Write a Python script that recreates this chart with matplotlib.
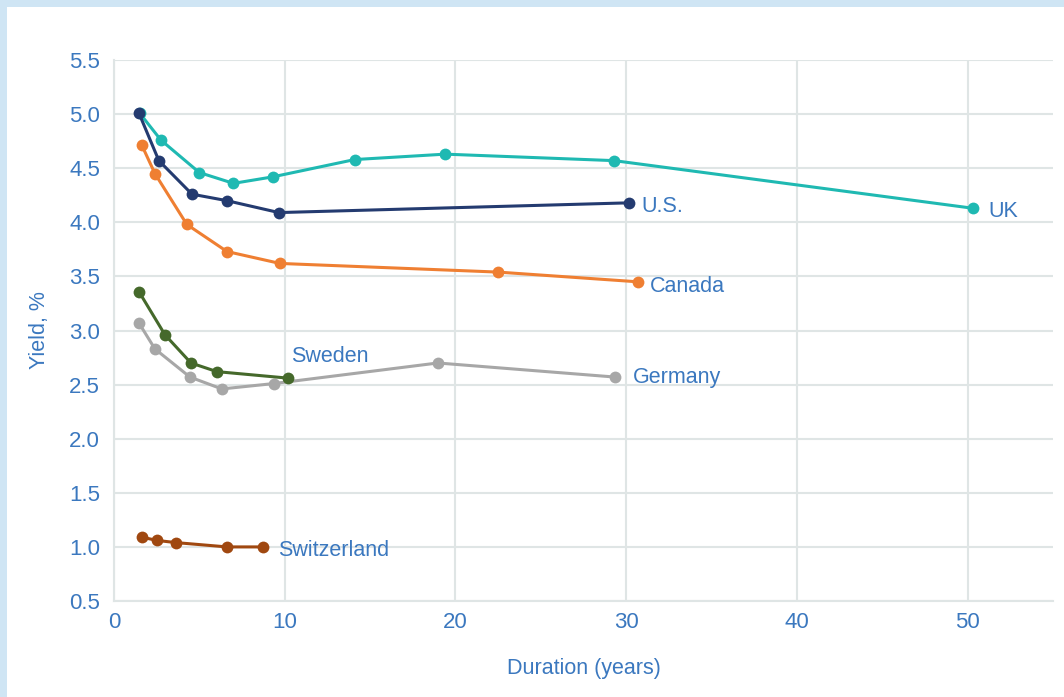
"""
Government bond yield curves by country: yield vs. duration
"""
import matplotlib.pyplot as plt
import matplotlib.patches as patches

plt.rcParams['font.family'] = ['Liberation Sans', 'DejaVu Sans']

TEXT_BLUE = '#3b78bf'
GRID = '#dfe5e5'
FRAME = '#cfe5f4'

# duration (years) and yield (%) per country
uk_dur = [1.5, 2.75, 5.0, 7.0, 9.3, 14.1, 19.4, 29.3, 50.3]
uk_yld = [5.01, 4.76, 4.46, 4.36, 4.42, 4.58, 4.63, 4.57, 4.13]

us_dur = [1.46, 2.63, 4.57, 6.62, 9.66, 30.15]
us_yld = [5.01, 4.57, 4.26, 4.20, 4.09, 4.18]

canada_dur = [1.64, 2.40, 4.27, 6.62, 9.72, 22.5, 30.7]
canada_yld = [4.71, 4.45, 3.98, 3.73, 3.62, 3.54, 3.45]

sweden_dur = [1.46, 2.99, 4.51, 6.03, 10.19]
sweden_yld = [3.36, 2.96, 2.70, 2.62, 2.56]

germany_dur = [1.46, 2.40, 4.45, 6.32, 9.37, 18.97, 29.33]
germany_yld = [3.07, 2.83, 2.57, 2.46, 2.51, 2.70, 2.57]

swiss_dur = [1.64, 2.52, 3.63, 6.62, 8.72]
swiss_yld = [1.09, 1.06, 1.04, 1.00, 1.00]

x_ticks = [0, 10, 20, 30, 40, 50]
y_ticks = [0.5, 1.0, 1.5, 2.0, 2.5, 3.0, 3.5, 4.0, 4.5, 5.0, 5.5]

series = [
    (germany_dur, germany_yld, '#a7a7a7', 'Germany', (30.4, 2.57)),
    (sweden_dur, sweden_yld, '#45692b', 'Sweden', (10.4, 2.76)),
    (swiss_dur, swiss_yld, '#a04810', 'Switzerland', (9.6, 0.97)),
    (canada_dur, canada_yld, '#ef7f32', 'Canada', (31.4, 3.41)),
    (uk_dur, uk_yld, '#1fb9b2', 'UK', (51.2, 4.10)),
    (us_dur, us_yld, '#243b70', 'U.S.', (30.9, 4.15)),
]

fig = plt.figure(figsize=(10.64, 6.97), dpi=100)

# light blue frame on top and left edges
fig.patches.append(patches.Rectangle((0, 0.99), 1, 0.01, transform=fig.transFigure,
                                     facecolor=FRAME, edgecolor='none', zorder=0))
fig.patches.append(patches.Rectangle((0, 0), 0.0066, 1, transform=fig.transFigure,
                                     facecolor=FRAME, edgecolor='none', zorder=0))

ax = fig.add_axes([0.1071, 0.1377, 0.8826, 0.7762])

for dur, yld, color, name, pos in series:
    ax.plot(dur, yld, color=color, lw=2.2, marker='o', markersize=8.5,
            markeredgewidth=0, zorder=3)
    ax.text(pos[0], pos[1], name, color=TEXT_BLUE, fontsize=15.5,
            ha='left', va='center', zorder=4)

ax.set_xlim(0, 55)
ax.set_ylim(0.5, 5.5)
ax.set_xticks(x_ticks)
ax.set_yticks(y_ticks)
ax.set_yticklabels([f'{v:.1f}' for v in y_ticks])

ax.grid(True, color=GRID, lw=1.5)
ax.set_axisbelow(True)
for side in ['top', 'right']:
    ax.spines[side].set_visible(False)
for side in ['left', 'bottom']:
    ax.spines[side].set_color(GRID)
    ax.spines[side].set_linewidth(1.5)

ax.tick_params(length=0, labelsize=16, labelcolor=TEXT_BLUE)
ax.tick_params(axis='y', pad=10)
ax.tick_params(axis='x', pad=8)

ax.set_xlabel('Duration (years)', fontsize=15.5, color=TEXT_BLUE, labelpad=18)
ax.set_ylabel('Yield, %', fontsize=15.5, color=TEXT_BLUE, labelpad=14)

plt.savefig('out.png', dpi=100)
